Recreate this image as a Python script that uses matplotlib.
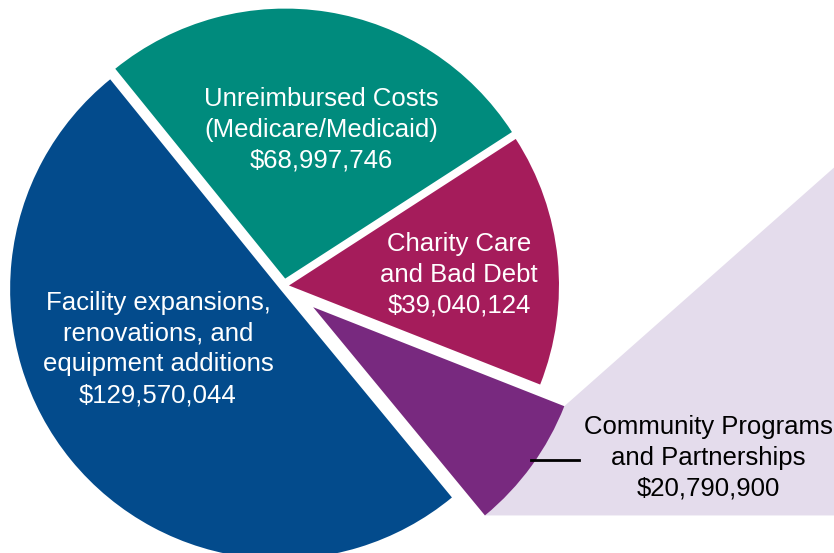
import numpy as np
import matplotlib
matplotlib.use("Agg")
import matplotlib.pyplot as plt
from matplotlib.patches import Polygon

# data
labels = ["Unreimbursed Costs\n(Medicare/Medicaid)",
          "Charity Care\nand Bad Debt",
          "Community Programs\nand Partnerships",
          "Facility expansions,\nrenovations, and\nequipment additions"]
values = [68997746, 39040124, 20790900, 129570044]
colors = ["#008B7D", "#A51C5B", "#78297F", "#034B8C"]
explode_px = [7.5, 5, 36, 5]

W, H = 834, 553
plt.rcParams['font.family'] = ['Liberation Sans', 'DejaVu Sans']

fig = plt.figure(figsize=(W / 100, H / 100), dpi=100)
ax = fig.add_axes([0, 0, 1, 1])

R = 270
cx, cy = 284, 267
# pie explode offsets are in data units here (pixels)
wedges, _ = ax.pie(values, colors=colors, radius=R, center=(cx, cy),
                   startangle=129, counterclock=False,
                   explode=explode_px,
                   wedgeprops=dict(linewidth=0), frame=True)
ax.set_xlim(0, W)
ax.set_ylim(0, H)
ax.set_aspect('equal')
ax.axis('off')
for w in wedges:
    w.set_zorder(2)

# lavender callout behind community slice
cw = wedges[2]
(px, py), pr = cw.center, cw.r
t_lo, t_hi = np.radians(cw.theta1), np.radians(cw.theta2)
top = (px + pr * np.cos(t_hi), py + pr * np.sin(t_hi))
bot = (px + pr * np.cos(t_lo), py + pr * np.sin(t_lo))
far = W + 50
slope = np.tan(np.radians(41.5))
poly = Polygon([top, (far, top[1] + (far - top[0]) * slope), (far, bot[1]), bot],
               closed=True, facecolor="#E4DCEC", edgecolor="none", zorder=1)
ax.add_patch(poly)

# labels
fs = 18.5
ls = 1.36
def money(v):
    return "${:,}".format(v)

ax.text(321, H - 130, labels[0] + "\n" + money(values[0]), color="white",
        ha="center", va="center", fontsize=fs, linespacing=ls, zorder=3)
ax.text(459, H - 275, labels[1] + "\n" + money(values[1]), color="white",
        ha="center", va="center", fontsize=fs, linespacing=ls, zorder=3)
ax.text(158, H - 349, labels[3] + "\n" + money(values[3]), color="white",
        ha="center", va="center", fontsize=fs, linespacing=ls, zorder=3)
ax.text(708, H - 458, labels[2] + "\n" + money(values[2]), color="black",
        ha="center", va="center", fontsize=fs, linespacing=ls, zorder=3)
ax.plot([531, 579], [H - 460, H - 460], color="black", lw=2, zorder=3)

fig.savefig("out.png", dpi=100)
